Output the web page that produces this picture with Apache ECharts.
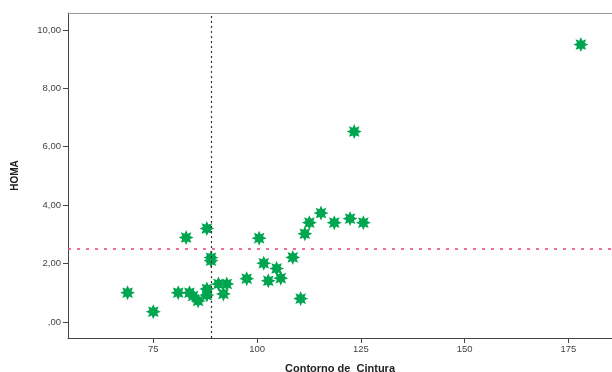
<!DOCTYPE html>
<html>
<head>
<meta charset="utf-8">
<script src="https://cdn.jsdelivr.net/npm/echarts@6/dist/echarts.min.js"></script>
<style>
  html, body { margin: 0; padding: 0; background: #fff; }
  #main { width: 612px; height: 372px; }
</style>
</head>
<body>
<div id="main"></div>
<script>
// ---- data ----
var cintura = [68.8, 75.0, 81.0, 82.9, 83.7, 84.6, 85.8, 87.9, 87.9, 87.9,
               88.9, 88.9, 90.7, 91.9, 92.7, 97.5, 100.5, 101.6, 102.7, 104.7,
               105.7, 108.6, 110.5, 111.5, 112.6, 115.4, 118.6, 122.4, 123.4, 125.6,
               178.0];
var homa = [1.00, 0.35, 1.00, 2.89, 1.00, 0.89, 0.72, 3.20, 1.13, 0.92,
            2.20, 2.10, 1.30, 0.96, 1.30, 1.48, 2.87, 2.01, 1.41, 1.83,
            1.50, 2.21, 0.80, 3.02, 3.40, 3.73, 3.40, 3.54, 6.52, 3.40,
            9.50];
var xTicks = [75, 100, 125, 150, 175];
var yTicks = [0, 2, 4, 6, 8, 10];
var yTickLabels = [',00', '2,00', '4,00', '6,00', '8,00', '10,00'];
var refX = 88.9;   // vertical dotted line
var refY = 2.5;    // horizontal dashed line

// 8-point star symbol
function starPath() {
  var pts = [];
  for (var i = 0; i < 16; i++) {
    var r = (i % 2 === 0) ? 50 : 28;
    var a = Math.PI * i / 8 - Math.PI / 2;
    pts.push((50 + r * Math.cos(a)).toFixed(1) + ',' + (50 + r * Math.sin(a)).toFixed(1));
  }
  return 'path://M' + pts.join('L') + 'Z';
}

var points = [];
for (var i = 0; i < cintura.length; i++) points.push([cintura[i], homa[i]]);

var chart = echarts.init(document.getElementById('main'), null, { renderer: 'canvas' });
var lbl = { fontFamily: 'Liberation Sans', fontSize: 9.5, color: '#444' };

var option = {
  animation: false,
  backgroundColor: '#fff',
  grid: { left: 68, right: 0, top: 13, bottom: 34, containLabel: false, outerBoundsMode: 'none' },
  xAxis: [{
    type: 'value', position: 'bottom', min: 54.45, max: 185.5,
    name: 'Contorno de  Cintura', nameLocation: 'middle', nameGap: 25,
    nameTextStyle: { fontFamily: 'Liberation Sans', fontSize: 11, fontWeight: 'bold', color: '#222' },
    axisLine: { show: true, onZero: false, lineStyle: { color: '#444', width: 1 } },
    axisTick: { show: true, length: 5, customValues: xTicks, lineStyle: { color: '#444' } },
    axisLabel: Object.assign({ customValues: xTicks, margin: 6 }, lbl),
    splitLine: { show: false }
  }, {
    type: 'value', position: 'top', min: 54.45, max: 185.5,
    axisLine: { show: true, onZero: false, lineStyle: { color: '#999', width: 1 } },
    axisTick: { show: false }, axisLabel: { show: false }, splitLine: { show: false }
  }],
  yAxis: {
    type: 'value', min: -0.55, max: 10.58,
    name: 'HOMA', nameLocation: 'middle', nameGap: 48,
    nameTextStyle: { fontFamily: 'Liberation Sans', fontSize: 10, fontWeight: 'bold', color: '#222' },
    axisLine: { show: true, onZero: false, lineStyle: { color: '#444', width: 1 } },
    axisTick: { show: true, length: 5, customValues: yTicks, lineStyle: { color: '#444' } },
    axisLabel: Object.assign({
      customValues: yTicks, margin: 7,
      formatter: function (v) { return yTickLabels[yTicks.indexOf(v)]; }
    }, lbl),
    splitLine: { show: false }
  },
  series: [{
    type: 'scatter',
    data: points,
    symbol: starPath(),
    symbolSize: 15,
    itemStyle: { color: '#00a550', opacity: 1 },
    z: 3,
    markLine: {
      silent: true, symbol: 'none', label: { show: false },
      lineStyle: { color: '#333', type: [2, 3], width: 1.2 },
      data: [{ xAxis: refX }]
    }
  }, {
    type: 'scatter',
    data: [],
    z: 2,
    markLine: {
      silent: true, symbol: 'none', label: { show: false },
      lineStyle: { color: '#e8407a', type: [3, 6], width: 1.6 },
      data: [{ yAxis: refY }]
    }
  }]
};
chart.setOption(option);
</script>
</body>
</html>
